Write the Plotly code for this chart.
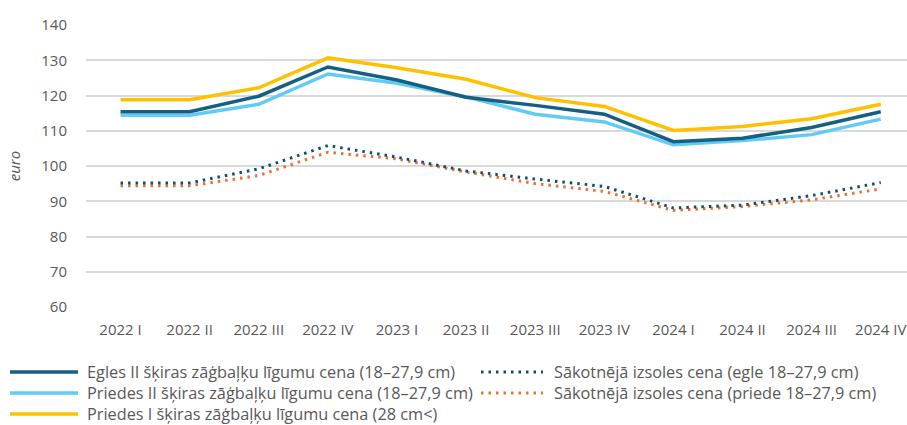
import plotly.graph_objects as go

categories = ["2022 I", "2022 II", "2022 III", "2022 IV", "2023 I", "2023 II",
              "2023 III", "2023 IV", "2024 I", "2024 II", "2024 III", "2024 IV"]

egles_ligumu = [115.4, 115.4, 119.8, 128.1, 124.4, 119.5, 117.2, 114.7, 106.9, 107.9, 110.9, 115.4]
priedes2_ligumu = [114.4, 114.4, 117.5, 126.1, 123.5, 119.6, 114.7, 112.5, 106.0, 107.2, 108.9, 113.3]
priedes1_ligumu = [118.8, 118.8, 122.2, 130.7, 127.9, 124.6, 119.4, 116.9, 110.1, 111.2, 113.4, 117.5]
sakotneja_egle = [95.2, 95.2, 99.2, 105.8, 102.5, 98.6, 96.3, 94.2, 88.1, 88.9, 91.6, 95.3]
sakotneja_priede = [94.4, 94.4, 97.3, 103.9, 102.0, 98.3, 95.0, 92.8, 87.4, 88.5, 90.4, 93.5]

y_ticks = [60, 70, 80, 90, 100, 110, 120, 130, 140]

names = {
    "egles": "Egles II šķiras zāģbaļķu līgumu cena (18–27,9 cm)",
    "priedes2": "Priedes II šķiras zāģbaļķu līgumu cena (18–27,9 cm)",
    "priedes1": "Priedes I šķiras zāģbaļķu līgumu cena (28 cm<)",
    "sak_egle": "Sākotnējā izsoles cena (egle 18–27,9 cm)",
    "sak_priede": "Sākotnējā izsoles cena (priede 18–27,9 cm)",
}

C_DARK = "#156082"
C_LIGHT = "#61CBF3"
C_YELLOW = "#FFC000"
C_DOT_DARK = "#0E4F6E"
C_ORANGE = "#E97132"
FONT = "Open Sans"
GRAY = "#595959"

fig = go.Figure()
x_idx = list(range(len(categories)))
DOT = "2.5px,5px"

series = [
    (sakotneja_priede, C_ORANGE, DOT, 3, "sak_priede"),
    (sakotneja_egle, C_DOT_DARK, DOT, 3, "sak_egle"),
    (priedes1_ligumu, C_YELLOW, "solid", 3.5, "priedes1"),
    (priedes2_ligumu, C_LIGHT, "solid", 3.5, "priedes2"),
    (egles_ligumu, C_DARK, "solid", 3.5, "egles"),
]
for vals, col, dash, w, key in series:
    fig.add_trace(go.Scatter(x=x_idx, y=vals, mode="lines", name=names[key],
                             line=dict(color=col, width=w, dash=dash),
                             showlegend=False))

# manual legend (two columns)
H_PLOT = 282.0
W_PLOT = 821.0
def py(ypx):
    return (307 - ypx) / H_PLOT
def px(xpx):
    return (xpx - 86) / W_PLOT

legend_items = [
    ("egles", C_DARK, "solid", 3.5, 10, 78, 85, 372),
    ("priedes2", C_LIGHT, "solid", 3.5, 10, 78, 85, 393),
    ("priedes1", C_YELLOW, "solid", 3.5, 10, 78, 85, 414),
    ("sak_egle", C_DOT_DARK, "dot", 3, 481, 543, 552, 372),
    ("sak_priede", C_ORANGE, "dot", 3, 481, 543, 552, 393),
]
for key, col, dash, w, x0, x1, xt, yp in legend_items:
    fig.add_shape(type="line", xref="paper", yref="paper",
                  x0=px(x0), x1=px(x1), y0=py(yp), y1=py(yp),
                  line=dict(color=col, width=w, dash=DOT if dash == "dot" else "solid"))
    fig.add_annotation(xref="paper", yref="paper", x=px(xt), y=py(yp),
                       text=names[key], showarrow=False, xanchor="left", yanchor="middle",
                       font=dict(family=FONT, size=16.3, color=GRAY))

fig.update_layout(
    width=907, height=425,
    margin=dict(l=86, r=0, t=25, b=118),
    plot_bgcolor="white", paper_bgcolor="white",
    font=dict(family=FONT, color=GRAY, size=15),
    xaxis=dict(tickmode="array", tickvals=x_idx, ticktext=categories,
               range=[-0.5, 11.38], showgrid=False, zeroline=False,
               showline=False, ticks="", ticklabelstandoff=12,
               tickfont=dict(size=15, color=GRAY)),
    yaxis=dict(range=[60, 140], tickvals=y_ticks, showgrid=True,
               gridcolor="#D9D9D9", gridwidth=1.5, zeroline=False, showline=False,
               ticks="", ticklabelstandoff=18, tickfont=dict(size=15, color=GRAY),
               title=dict(text="<i>euro</i>", font=dict(size=15, color=GRAY), standoff=17)),
)

fig.write_html("out.html", config={"displayModeBar": False},
               post_script="document.body.style.margin='0';")
